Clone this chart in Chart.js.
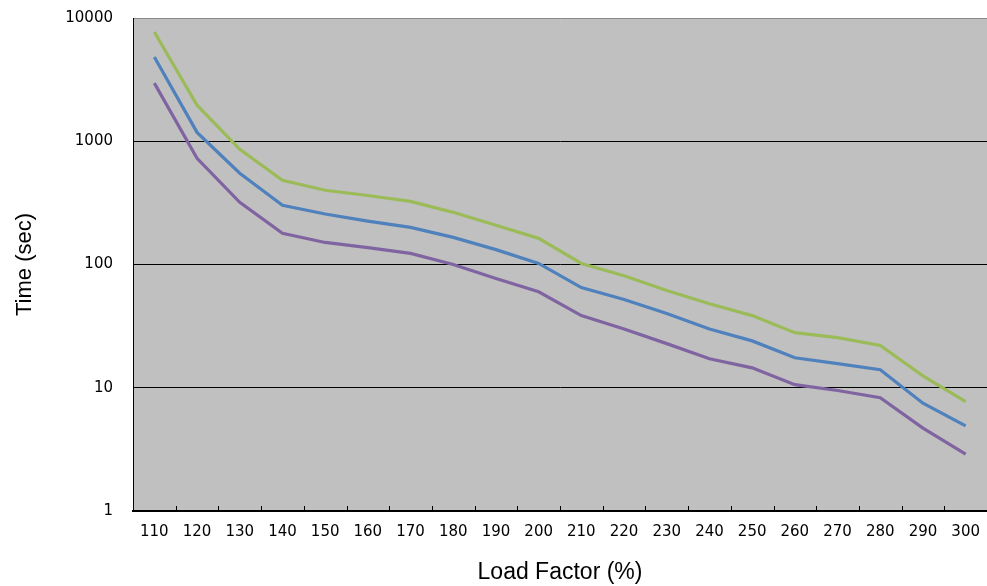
<!DOCTYPE html>
<html>
<head>
<meta charset="utf-8">
<script src="https://cdn.jsdelivr.net/npm/chart.js@4"></script>
<style>
  html, body { margin: 0; padding: 0; background: #ffffff; }
  #wrap { width: 987px; height: 586px; }
</style>
</head>
<body>
<div id="wrap"><canvas id="c" width="987" height="586"></canvas></div>
<script>
const categories = ['110','120','130','140','150','160','170','180','190','200','210','220','230','240','250','260','270','280','290','300'];
const greenSeries = [7700, 1960, 860, 482, 400, 363, 325, 265, 208, 163, 102, 81, 61.5, 48, 38.5, 28, 25.5, 22, 12.5, 7.7];
const blueSeries = [4820, 1180, 550, 302, 257, 225, 200, 166, 132, 102, 65, 52, 40, 30, 24, 17.5, 15.7, 14, 7.5, 4.9];
const purpleSeries = [2960, 728, 319, 179, 151, 137, 123, 100, 77, 60, 38.5, 30, 22.8, 17.2, 14.5, 10.6, 9.5, 8.3, 4.7, 2.9];
const yTicks = [1, 10, 100, 1000, 10000];

const plotBg = {
  id: 'plotBg',
  beforeDraw(chart) {
    const {ctx, chartArea: a} = chart;
    ctx.save();
    ctx.fillStyle = '#C0C0C0';
    ctx.fillRect(a.left, a.top, a.right - a.left, a.bottom - a.top);
    ctx.restore();
  },
  afterDatasetsDraw(chart) {
    const {ctx, chartArea: a} = chart;
    const xs = chart.scales.x;
    ctx.save();
    ctx.strokeStyle = '#000000';
    ctx.lineWidth = 1;
    for (let i = 0; i < categories.length - 1; i++) {
      const px = Math.round((xs.getPixelForValue(i) + xs.getPixelForValue(i + 1)) / 2) + 0.5;
      ctx.beginPath();
      ctx.moveTo(px, a.bottom);
      ctx.lineTo(px, a.bottom - 5);
      ctx.stroke();
    }
    ctx.restore();
  }
};

const mk = (label, data, color) => ({
  label, data,
  borderColor: color,
  backgroundColor: color,
  borderWidth: 3.2,
  pointRadius: 0,
  pointHoverRadius: 0,
  tension: 0,
  fill: false
});

new Chart(document.getElementById('c'), {
  type: 'line',
  data: {
    labels: categories,
    datasets: [
      mk('A', greenSeries, '#9BBB59'),
      mk('B', blueSeries, '#4F81BD'),
      mk('C', purpleSeries, '#8064A2')
    ]
  },
  plugins: [plotBg],
  options: {
    responsive: false,
    animation: false,
    devicePixelRatio: 1,
    layout: { padding: { top: 18, left: 0, right: 0, bottom: 0 } },
    plugins: { legend: { display: false }, tooltip: { enabled: false } },
    scales: {
      x: {
        type: 'category',
        offset: true,
        grid: { display: false, drawTicks: false },
        border: { display: true, color: '#000000', width: 2 },
        ticks: {
          color: '#000000',
          font: { family: 'DejaVu Sans', size: 15 },
          padding: 12,
          maxRotation: 0,
          autoSkip: false
        },
        title: {
          display: true,
          text: 'Load Factor (%)',
          color: '#000000',
          font: { family: 'Liberation Sans', size: 23 },
          padding: { top: 0, bottom: 0 }
        },
        afterFit(scale) {
          scale.height = 75;
          scale.paddingLeft = 0;
          scale.paddingRight = 0;
        }
      },
      y: {
        type: 'logarithmic',
        min: 1,
        max: 10000,
        afterBuildTicks(scale) { scale.ticks = yTicks.map(v => ({ value: v })); },
        grid: {
          drawTicks: false,
          lineWidth: 1,
          color(ctx) {
            const v = ctx.tick && ctx.tick.value;
            if (v === 10000) return '#8a8a8a';
            if (v === 1) return 'rgba(0,0,0,0)';
            return '#000000';
          }
        },
        border: { display: true, color: '#000000', width: 1 },
        ticks: {
          color: '#000000',
          font: { family: 'DejaVu Sans', size: 15 },
          padding: 20,
          callback: (v) => String(v)
        },
        title: {
          display: true,
          text: 'Time (sec)',
          color: '#000000',
          font: { family: 'Liberation Sans', size: 22 },
          padding: { top: 12, bottom: 0 }
        },
        afterFit(scale) {
          scale.width = 133;
          scale.paddingTop = 0;
          scale.paddingBottom = 0;
        }
      }
    }
  }
});
</script>
</body>
</html>
